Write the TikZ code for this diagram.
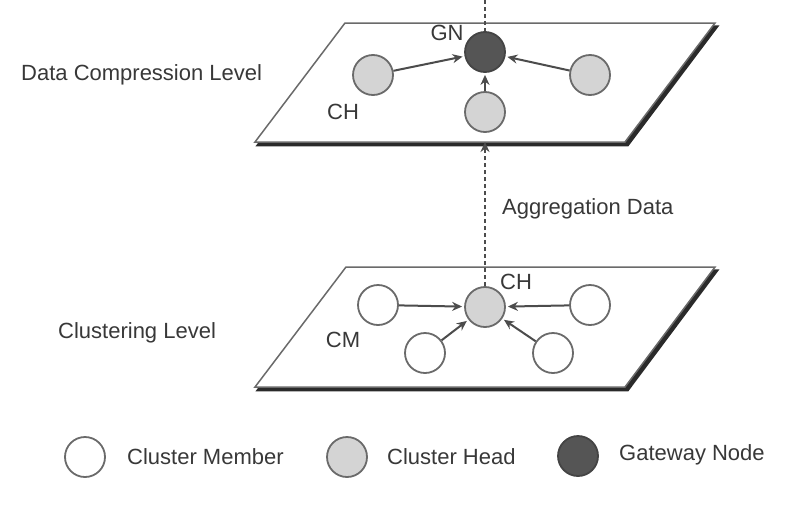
\documentclass[tikz,border=0pt]{standalone}
\usepackage{fontspec}
\setmainfont{Liberation Sans}
\usetikzlibrary{arrows.meta}
\definecolor{txt}{HTML}{383838}
\definecolor{edge}{HTML}{6A6A6A}
\definecolor{headfill}{HTML}{D4D4D4}
\definecolor{gwfill}{HTML}{555555}
\definecolor{shadowc}{HTML}{2A2A2A}
\tikzset{
  lbl/.style={text=txt, font=\fontsize{22}{26}\selectfont, inner sep=0pt},
  memb/.style={circle, draw=edge, line width=1.8pt, fill=white, minimum size=40pt, inner sep=0pt},
  head/.style={memb, fill=headfill},
  gway/.style={memb, fill=gwfill, draw=gwfill!80!black},
  plane/.style={draw=edge, line width=1.5pt, fill=white},
  planeshadow/.style={fill=shadowc, draw=shadowc, line width=1.5pt},
  conn/.style={draw=black!70, line width=2pt, -{Stealth[length=10pt,width=9pt]}, shorten >=2pt},
  vdash/.style={draw=black!70, line width=1.6pt, dash pattern=on 4pt off 3pt}
}
\begin{document}
\begin{tikzpicture}[x=1pt,y=-1pt]
\useasboundingbox (0,0) rectangle (800,509);
% planes
\draw[planeshadow] (347,26) -- (718,26) -- (628,145.5) -- (257,145.5) -- cycle;
\draw[plane] (345,23) -- (715,23) -- (625,142) -- (255,142) -- cycle;
\draw[planeshadow] (348,270) -- (718,270) -- (628,390.5) -- (257,390.5) -- cycle;
\draw[plane] (346,267) -- (715,267) -- (625,387) -- (255,387) -- cycle;
% coordinates
\coordinate (top) at (485,0);
\coordinate (tpb) at (485,142);
% top level nodes
\node[gway] (gn) at (485,52) {};
\node[head] (chl) at (373,75) {};
\node[head] (chr) at (590,75) {};
\node[head] (chb) at (485,112) {};
% lower level nodes
\node[head] (ch) at (485,307) {};
\node[memb] (cml) at (378,305) {};
\node[memb] (cmr) at (590,305) {};
\node[memb] (cmbl) at (425,353) {};
\node[memb] (cmbr) at (553,353) {};
% connectors
\draw[vdash] (top) -- (gn.north);
\draw[vdash, -{Stealth[length=10pt,width=9pt]}] (ch.north) -- (tpb);
\draw[conn] (chl) -- (gn);
\draw[conn] (chr) -- (gn);
\draw[conn] (chb) -- (gn);
\draw[conn] (cml) -- (ch);
\draw[conn] (cmr) -- (ch);
\draw[conn] (cmbl) -- (ch);
\draw[conn] (cmbr) -- (ch);
% labels
\node[lbl, anchor=west] (l1) at (21,75) {Data Compression Level};
\node[lbl, anchor=west] (l2) at (58,333) {Clustering Level};
\node[lbl, anchor=west] (l3) at (502,209) {Aggregation Data};
\node[lbl] (lgn) at (447,33) {GN};
\node[lbl] (lch) at (343,112) {CH};
\node[lbl] (lch2) at (516,282) {CH};
\node[lbl] (lcm) at (343,340) {CM};
% legend
\node[memb, minimum width=38pt, minimum height=40pt] (k1) at (85,457) {};
\node[lbl, anchor=west] (t1) at (127,457) {Cluster Member};
\node[head, minimum width=40pt, minimum height=40pt] (k2) at (347,457) {};
\node[lbl, anchor=west] (t2) at (387,457) {Cluster Head};
\node[gway, minimum width=40pt, minimum height=40pt] (k3) at (578,456) {};
\node[lbl, anchor=west] (t3) at (619,455) {Gateway Node};
\end{tikzpicture}
\end{document}
